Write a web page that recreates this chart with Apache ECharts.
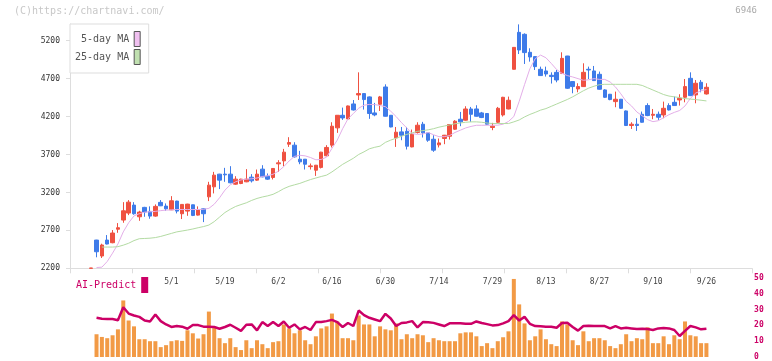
<!DOCTYPE html>
<html><head><meta charset="utf-8">
<script src="https://cdn.jsdelivr.net/npm/echarts@6/dist/echarts.min.js"></script>
<style>html,body{margin:0;padding:0;background:#fff}#c{width:772px;height:361px}</style>
</head><body><div id="c"></div>
<script>
const dates = ['4/9','4/10','4/11','4/14','4/15','4/16','4/17','4/18','4/21','4/22','4/23','4/24','4/25','4/28','4/30',
'5/1','5/2','5/7','5/8','5/9','5/12','5/13','5/14','5/15','5/16','5/19','5/20','5/21','5/22','5/23','5/26','5/27','5/28','5/29','5/30',
'6/2','6/3','6/4','6/5','6/6','6/9','6/10','6/11','6/12','6/13','6/16','6/17','6/18','6/19','6/20','6/23','6/24','6/25','6/26','6/27','6/30',
'7/1','7/2','7/3','7/4','7/7','7/8','7/9','7/10','7/11','7/14','7/15','7/16','7/17','7/18','7/22','7/23','7/24','7/25','7/28','7/29','7/30','7/31',
'8/1','8/4','8/5','8/6','8/7','8/8','8/12','8/13','8/14','8/15','8/18','8/19','8/20','8/21','8/22','8/25','8/26','8/27','8/28','8/29',
'9/1','9/2','9/3','9/4','9/5','9/8','9/9','9/10','9/11','9/12','9/16','9/17','9/18','9/19','9/22','9/24','9/25','9/26'];

const openP = [2200, 2572,2362,2572,2537,2715,2836,2928,3033,2879,3003, 2950,2888,3069,3020,2971,3086,2919,2954,3037,2901,
 2984,3142,3274,3441,3441,3441,3309,3318,3340,3401, 3362,3507,3414,3397,3577,3616,3836,3823,3638,3638,
 3540,3493,3530,3683,3823,4051,4217,4169,4366,4485, 4503,4459,4248,4362,4590,4217,3919,3998,4006,3800,
 3990,4099,3985,3901,3827,3911,3941,4033,4165,4152, 4300,4300,4248,4240,4056,4125,4221,4300,4823,5310,
 5284,5047,4990,4823,4801,4744,4783,4770,4998,4661, 4564,4595,4823,4801,4757,4551,4494,4397,4428,4274,
 4082,4099,4230,4345,4217,4230,4221,4345,4388,4419, 4454,4704,4485,4652,4498];
const closeP = [2204, 2418,2507,2520,2665,2735,2958,3072,2919,2941,2941, 2888,3016,3024,2984,3090,2954,3042,3046,2897,2967,
 2919,3296,3428,3362,3432,3327,3375,3375,3375,3353, 3441,3406,3375,3516,3590,3731,3858,3669,3603,3572,
 3550,3559,3731,3793,4073,4217,4182,4340,4287,4503, 4424,4240,4222,4459,4204,4063,3994,3954,3809,3967,
 4086,3985,3888,3757,3853,3954,4095,4139,4130,4300, 4230,4204,4187,4099,4073,4309,4454,4415,5112,5077,
 5043,4985,4858,4740,4761,4727,4682,4967,4573,4595, 4595,4783,4814,4674,4560,4454,4424,4428,4309,4082,
 4099,4082,4125,4213,4230,4191,4309,4287,4345,4441, 4595,4476,4639,4564,4586];
const lowP = [2200, 2345,2336,2515,2530,2668,2800,2901,2906,2826,2879, 2853,2880,3020,2958,2967,2924,2849,2892,2888,2895,
 2809,3086,3187,3244,3340,3320,3300,3309,3335,3331, 3353,3400,3366,3371,3471,3546,3800,3660,3572,3502,
 3502,3418,3516,3675,3793,3985,4156,4160,4280,4418, 4292,4170,4204,4274,4200,4058,3800,3888,3766,3795,
 3976,3924,3867,3735,3793,3836,3897,4025,4073,4145, 4130,4200,4180,4090,4020,4110,4200,4295,4820,5024,
 4893,4924,4814,4735,4727,4635,4652,4760,4565,4507, 4520,4590,4695,4670,4555,4445,4415,4323,4300,4075,
 4037,4011,4120,4205,4165,4156,4178,4280,4340,4345, 4388,4470,4375,4520,4490];
const highP = [2204, 2575,2524,2638,2704,2796,3072,3099,3072,2958,3010, 3016,3042,3099,3055,3151,3090,3045,3050,3040,3016,
 2990,3340,3471,3445,3524,3546,3414,3380,3507,3441, 3502,3559,3450,3520,3625,3774,3928,3862,3748,3640,
 3581,3562,3735,3823,4125,4220,4318,4345,4418,4783, 4505,4465,4380,4472,4625,4220,4063,4063,4063,4029,
 4125,4130,3990,3954,3911,3958,4100,4152,4261,4336, 4327,4349,4261,4245,4117,4327,4460,4463,5115,5415,
 5297,5100,4995,4858,4858,4783,4814,5047,5000,4665, 4639,4902,4858,4867,4793,4560,4498,4529,4432,4280,
 4125,4178,4266,4375,4300,4266,4397,4375,4463,4494, 4695,4783,4682,4682,4639];

const ma5 = ['-', 2210,2215,2290,2400,2520,2680,2800,2890,2920,2940,
 2945,2950,2960,2967,2970,2975,2975,2975,2975,2975, 2978,2990,3045,3130,3230,3300,3340,3365,3375,3380,
 3390,3410,3420,3440,3480,3540,3615,3675,3690,3682, 3660,3630,3635,3665,3780,3890,4040,4170,4240,4310,
 4350,4360,4358,4345,4330,4270,4200,4120,4050,3975, 3965,3970,3990,3960,3935,3935,3950,3990,4020,4050,
 4070,4085,4085,4086,4086,4086,4100,4135,4200,4400, 4620,4830,4964,5010,4975,4900,4820,4770,4740,4722,
 4700,4678,4685,4700,4690,4690,4656,4590,4500,4400, 4340,4260,4210,4160,4133,4145,4185,4225,4255,4280,
 4340,4440,4510,4540,4556];
const ma25 = ['-','-', 2480,2480,2480,2485,2505,2530,2565,2590,2593,
 2597,2605,2620,2640,2660,2680,2692,2704,2718,2735, 2750,2770,2815,2875,2935,2978,3015,3040,3063,3095,
 3121,3140,3155,3175,3210,3250,3280,3300,3319,3345, 3370,3390,3410,3428,3470,3520,3570,3610,3650,3700,
 3735,3775,3795,3810,3860,3890,3915,3940,3965,3985, 4005,4015,4025,4040,4060,4075,4090,4105,4115,4125,
 4130,4130,4125,4115,4108,4108,4108,4108,4130,4155, 4195,4228,4255,4285,4305,4335,4365,4395,4425,4460,
 4500,4540,4575,4600,4620,4625,4625,4625,4625,4625, 4625,4625,4610,4580,4550,4520,4490,4470,4460,4450,
 4437,4430,4424,4415,4406];

const volume = ['-', 14.4,12.7,11.9,13.75,17.5,35.8,23.1,19.4,11.25,11.25,
 10,10,6.25,7.5,10,10.6,10.2,16.9,15,11.7, 14.4,28.75,19.2,11.9,8.75,11.9,6.25,4.4,10.6,5.6,
 10.6,8.1,5.6,9.4,10,20.6,18.1,15,16.9,10.6, 8.1,13.1,18.1,19.4,27.5,22.5,11.9,11.9,10.6,26.25,
 20.6,20.6,13.1,19.4,17.5,16.9,21.25,11.25,14.4,11.9, 14.4,13.75,9.4,11.9,10.6,10,10,10,15,15.6,
 15.6,13.1,6.9,8.75,5.6,10,12.5,16.25,49.4,33.3, 21.25,10.6,13.1,17.5,11.25,8.1,6.9,22.5,20.6,10.6,
 7.5,16.25,10,11.9,11.9,10.6,6.9,5.6,8.1,14.4, 10,11.9,11.25,18.75,8.75,8.75,13.1,8.1,13.75,11.25,
 22.5,13.75,13.1,8.75,8.75];
const aiPredict = ['-', 24.8,24.2,24,24,23.3,31.5,27.5,26.25,25.4,23.1,
 22.5,26.9,22.7,20.6,19,19.6,19.2,17.9,20.2,20.2, 19.2,19.2,19,17.9,19,20.4,18.5,16.5,20.4,20.6,
 16.9,22.1,19.6,22.1,19.6,22.5,18.5,20.6,17.5,19, 17.1,22.1,22.1,22.7,23.5,22.1,19,21.5,19.6,29.4,
 26.5,24.8,23.75,22.7,27.3,24.4,19.6,21.5,21.9,22.7, 18.7,22.1,22,21.6,20.6,19.6,21.3,21.4,21.4,21,
 21,22.5,21.5,20.8,20,20.2,21.25,22.7,26.5,23.1, 25.4,21,19.6,19.4,19.2,19.2,18.5,21.5,21.7,19,
 16.7,19.6,19.8,19.6,19.6,19.6,18.1,19.6,18.1,18.5, 18.1,17.7,17.9,17.7,17.1,18.1,18.3,18.1,17.1,13.3,
 16.5,19.6,18.75,17.5,17.9];

const priceTicks = [2200,2700,3200,3700,4200,4700,5200];
const subTicks = [0,10,20,30,40,50];

const MONO = 'DejaVu Sans Mono';
const RED = '#ef5141', BLUE = '#3e7be9';
const candles = dates.map((d,i)=>[openP[i], closeP[i], lowP[i], highP[i]]);

const chart = echarts.init(document.getElementById('c'), null, {renderer:'canvas'});
chart.setOption({
  animation:false,
  backgroundColor:'#fff',
  title:[
    {text:'(C)https://chartnavi.com/', left:14, top:6, padding:0,
     textStyle:{fontFamily:MONO, fontSize:10, fontWeight:'normal', color:'#c8c8c8'}},
    {text:'6946', right:15, top:6, padding:0,
     textStyle:{fontFamily:MONO, fontSize:9, fontWeight:'normal', color:'#aaa'}}
  ],
  legend:[
    {data:[{name:'5-day MA', itemStyle:{color:'#f0c0f0', borderColor:'#555', borderWidth:1}},
           {name:'25-day MA', itemStyle:{color:'#c0e0b0', borderColor:'#555', borderWidth:1}}],
     left:70, top:24, orient:'vertical', align:'right', icon:'rect',
     itemWidth:6, itemHeight:15, itemGap:2, padding:[7,8,8,5],
     borderColor:'#ddd', borderWidth:1, backgroundColor:'#fff', selectedMode:false, z:10,
     textStyle:{fontFamily:MONO, fontSize:10, color:'#555'}},
    {data:[{name:'AI-Predict', itemStyle:{color:'#cc0066'}}],
     left:76, top:277, align:'right', icon:'rect', itemWidth:7, itemHeight:16, padding:0,
     selectedMode:false, textStyle:{fontFamily:MONO, fontSize:10, color:'#cc0066'}}
  ],
  grid:[
    {left:70, right:20, top:24, bottom:92.7},
    {left:88.5, right:62.9, top:24, bottom:92.7},
    {left:88.5, right:62.9, top:278, bottom:3}
  ],
  xAxis:[
    {gridIndex:0, type:'value', min:0, max:11, interval:1,
     axisLine:{lineStyle:{color:'#ddd'}}, axisTick:{length:5, lineStyle:{color:'#ddd'}},
     axisLabel:{show:false}, splitLine:{show:false}},
    {gridIndex:1, type:'category', data:dates, boundaryGap:true,
     axisLine:{show:false}, axisTick:{show:false}, splitLine:{show:false},
     axisLabel:{interval:(i)=> i>=15 && (i-15)%10===0, fontFamily:MONO, fontSize:8, color:'#444', margin:10}},
    {gridIndex:2, type:'category', data:dates, boundaryGap:true, show:false}
  ],
  yAxis:[
    {gridIndex:0, type:'value', min:2200, max:5420,
     axisLine:{show:true, lineStyle:{color:'#ddd'}},
     axisTick:{show:true, length:4, lineStyle:{color:'#ddd'}, customValues:priceTicks},
     axisLabel:{customValues:priceTicks, formatter:(v)=>String(v), fontFamily:MONO, fontSize:8, color:'#333', margin:10},
     splitLine:{show:false}},
    {gridIndex:1, type:'value', min:2200, max:5420, show:false, splitLine:{show:false}},
    {gridIndex:2, type:'value', min:0, max:50, position:'right', offset:37,
     axisLine:{show:false}, axisTick:{show:false}, splitLine:{show:false},
     axisLabel:{customValues:subTicks, formatter:(v)=>String(v), fontFamily:MONO, fontSize:8, fontWeight:'bold', color:'#cc0066', margin:8}}
  ],
  series:[
    {type:'candlestick', name:'price', xAxisIndex:1, yAxisIndex:1, data:candles, barWidth:4,
     itemStyle:{color:RED, color0:BLUE, borderColor:RED, borderColor0:BLUE, borderColorDoji:RED, borderWidth:1}},
    {type:'line', name:'5-day MA', xAxisIndex:1, yAxisIndex:1, data:ma5, symbol:'none', z:3,
     lineStyle:{width:1, color:'#e3aee8'}, itemStyle:{color:'#f0c0f0'}},
    {type:'line', name:'25-day MA', xAxisIndex:1, yAxisIndex:1, data:ma25, symbol:'none', z:3,
     lineStyle:{width:1, color:'#b3dba3'}, itemStyle:{color:'#c0e0b0'}},
    {type:'bar', name:'Volume', xAxisIndex:2, yAxisIndex:2, data:volume, barWidth:4,
     itemStyle:{color:'#f29a45'}},
    {type:'line', name:'AI-Predict', xAxisIndex:2, yAxisIndex:2, data:aiPredict, symbol:'none', z:3,
     lineStyle:{width:2.5, color:'#cc0066'}, itemStyle:{color:'#cc0066'}}
  ]
});
</script></body></html>
